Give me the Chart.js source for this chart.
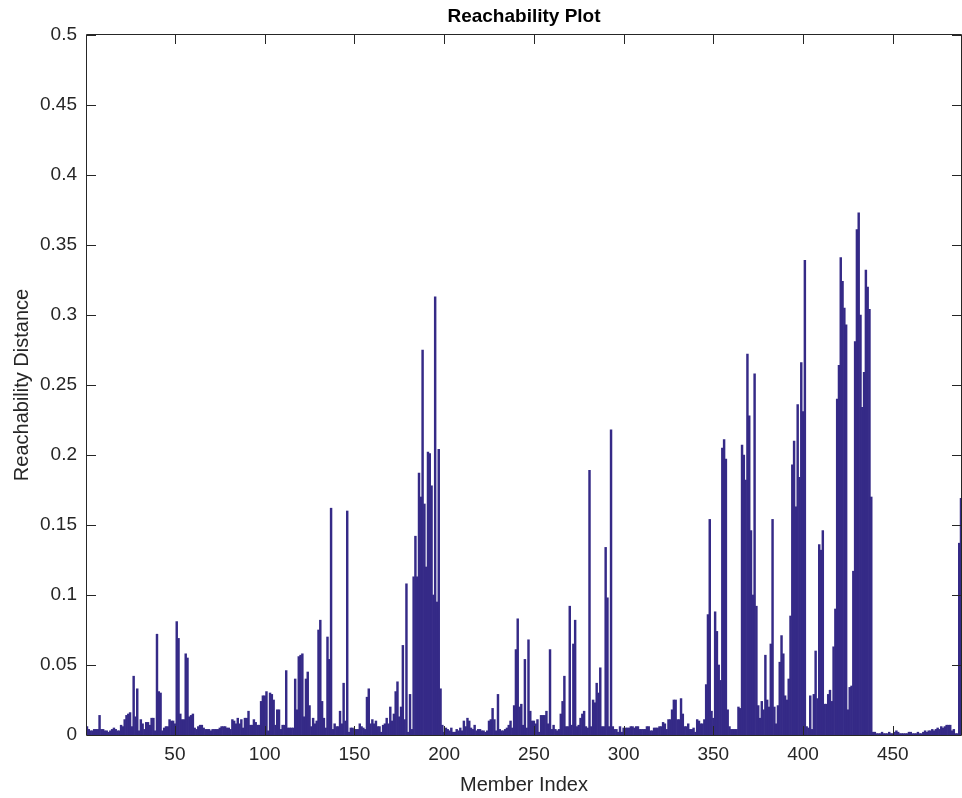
<!DOCTYPE html>
<html>
<head>
<meta charset="utf-8">
<title>Reachability Plot</title>
<script src="https://cdn.jsdelivr.net/npm/chart.js@4.4.0/dist/chart.umd.min.js"></script>
<style>
html, body { margin: 0; padding: 0; background: #fff; }
#wrap { width: 962px; height: 798px; position: relative; }
</style>
</head>
<body>
<div id="wrap"><canvas id="chart"></canvas></div>
<script>
// reachability distance per member, ordered
var reach = [
    0.006, 0.004, 0.003, 0.003, 0.004, 0.004, 0.004, 0.014, 0.004, 0.004,
    0.003, 0.003, 0.002, 0.003, 0.004, 0.005, 0.004, 0.003, 0.003, 0.007,
    0.006, 0.011, 0.014, 0.015, 0.016, 0.006, 0.042, 0.013, 0.033, 0.003,
    0.011, 0.008, 0.004, 0.009, 0.009, 0.007, 0.012, 0.012, 0.003, 0.072,
    0.031, 0.030, 0.003, 0.005, 0.006, 0.006, 0.011, 0.010, 0.010, 0.008,
    0.081, 0.069, 0.015, 0.011, 0.011, 0.058, 0.055, 0.013, 0.014, 0.015,
    0.005, 0.004, 0.006, 0.007, 0.007, 0.005, 0.004, 0.004, 0.004, 0.003,
    0.004, 0.004, 0.004, 0.004, 0.005, 0.006, 0.006, 0.006, 0.005, 0.005,
    0.004, 0.011, 0.010, 0.008, 0.012, 0.008, 0.011, 0.005, 0.012, 0.012,
    0.017, 0.007, 0.007, 0.011, 0.009, 0.007, 0.007, 0.024, 0.028, 0.028,
    0.031, 0.003, 0.030, 0.029, 0.025, 0.007, 0.018, 0.018, 0.004, 0.007,
    0.007, 0.046, 0.005, 0.005, 0.005, 0.005, 0.040, 0.018, 0.056, 0.057,
    0.058, 0.013, 0.040, 0.045, 0.021, 0.006, 0.012, 0.008, 0.010, 0.075,
    0.082, 0.024, 0.012, 0.005, 0.070, 0.054, 0.162, 0.004, 0.008, 0.006,
    0.006, 0.017, 0.008, 0.037, 0.010, 0.160, 0.002, 0.005, 0.005, 0.004,
    0.004, 0.004, 0.008, 0.006, 0.005, 0.004, 0.027, 0.033, 0.008, 0.011,
    0.008, 0.010, 0.006, 0.006, 0.002, 0.007, 0.008, 0.012, 0.008, 0.020,
    0.010, 0.015, 0.031, 0.038, 0.013, 0.020, 0.064, 0.011, 0.108, 0.002,
    0.029, 0.004, 0.113, 0.142, 0.113, 0.187, 0.170, 0.275, 0.165, 0.120,
    0.202, 0.201, 0.178, 0.100, 0.313, 0.095, 0.204, 0.033, 0.007, 0.002,
    0.005, 0.004, 0.003, 0.005, 0.002, 0.002, 0.004, 0.003, 0.005, 0.003,
    0.010, 0.006, 0.012, 0.010, 0.005, 0.004, 0.007, 0.003, 0.004, 0.004,
    0.003, 0.003, 0.002, 0.003, 0.010, 0.011, 0.019, 0.011, 0.003, 0.029,
    0.004, 0.003, 0.003, 0.004, 0.005, 0.007, 0.010, 0.005, 0.021, 0.061,
    0.083, 0.020, 0.022, 0.007, 0.054, 0.005, 0.068, 0.017, 0.010, 0.010,
    0.008, 0.011, 0.002, 0.014, 0.014, 0.014, 0.017, 0.008, 0.061, 0.004,
    0.007, 0.004, 0.003, 0.004, 0.015, 0.024, 0.042, 0.006, 0.006, 0.092,
    0.007, 0.065, 0.082, 0.006, 0.007, 0.012, 0.015, 0.017, 0.006, 0.005,
    0.189, 0.006, 0.025, 0.023, 0.037, 0.030, 0.048, 0.006, 0.006, 0.134,
    0.098, 0.006, 0.218, 0.006, 0.004, 0.004, 0.002, 0.006, 0.002, 0.005,
    0.005, 0.005, 0.005, 0.006, 0.006, 0.005, 0.006, 0.006, 0.004, 0.004,
    0.004, 0.004, 0.006, 0.006, 0.003, 0.003, 0.005, 0.005, 0.005, 0.006,
    0.006, 0.009, 0.008, 0.004, 0.011, 0.011, 0.018, 0.025, 0.025, 0.011,
    0.011, 0.026, 0.015, 0.006, 0.006, 0.008, 0.004, 0.004, 0.005, 0.002,
    0.011, 0.010, 0.008, 0.008, 0.011, 0.036, 0.086, 0.154, 0.017, 0.012,
    0.088, 0.074, 0.050, 0.039, 0.205, 0.211, 0.197, 0.018, 0.006, 0.004,
    0.004, 0.004, 0.004, 0.020, 0.019, 0.207, 0.200, 0.182, 0.272, 0.228,
    0.146, 0.100, 0.258, 0.092, 0.021, 0.012, 0.024, 0.018, 0.057, 0.025,
    0.020, 0.065, 0.154, 0.020, 0.008, 0.021, 0.052, 0.071, 0.058, 0.028,
    0.025, 0.040, 0.085, 0.193, 0.210, 0.163, 0.236, 0.184, 0.266, 0.231,
    0.339, 0.006, 0.005, 0.028, 0.004, 0.029, 0.060, 0.026, 0.136, 0.132,
    0.146, 0.022, 0.022, 0.029, 0.032, 0.024, 0.063, 0.090, 0.240, 0.264,
    0.341, 0.324, 0.305, 0.293, 0.018, 0.034, 0.035, 0.117, 0.281, 0.361,
    0.373, 0.300, 0.234, 0.259, 0.332, 0.320, 0.304, 0.170, 0.002, 0.002,
    0.001, 0.001, 0.001, 0.002, 0.001, 0.001, 0.001, 0.002, 0.001, 0.001,
    0.002, 0.003, 0.002, 0.001, 0.001, 0.001, 0.001, 0.001, 0.002, 0.002,
    0.001, 0.001, 0.001, 0.002, 0.001, 0.001, 0.002, 0.003, 0.002, 0.003,
    0.003, 0.004, 0.003, 0.004, 0.005, 0.004, 0.006, 0.005, 0.006, 0.007,
    0.007, 0.007, 0.003, 0.004, 0.001, 0.001, 0.137, 0.169
];
// member index 1..N
var memberIndex = reach.map(function (v, k) { return k + 1; });
var xTicks = [50, 100, 150, 200, 250, 300, 350, 400, 450];
var yTicks = [0, 0.05, 0.1, 0.15, 0.2, 0.25, 0.3, 0.35, 0.4, 0.45, 0.5];

var chartTitle = 'Reachability Plot';
var xTitle = 'Member Index';
var yTitle = 'Reachability Distance';

var barColor = '#352a87';
var axisColor = '#262626';
var fontFamily = '"Liberation Sans", Arial, Helvetica, sans-serif';

// matlab style box with inward tick marks + title centred on the axes
var boxPlugin = {
    id: 'boxPlugin',
    afterDraw: function (chart) {
        var ctx = chart.ctx;
        var a = chart.chartArea;
        var xs = chart.scales.x;
        var ys = chart.scales.y;
        var len = 9;
        ctx.save();
        ctx.strokeStyle = axisColor;
        ctx.lineWidth = 1;
        ctx.beginPath();
        ctx.rect(a.left - 0.5, a.top - 0.5, a.right - a.left + 1, a.bottom - a.top + 1);
        xTicks.forEach(function (t) {
            var px = Math.round(xs.getPixelForValue(t)) + 0.5;
            ctx.moveTo(px, a.bottom);
            ctx.lineTo(px, a.bottom - len);
            ctx.moveTo(px, a.top);
            ctx.lineTo(px, a.top + len);
        });
        yTicks.forEach(function (t) {
            var py = Math.round(ys.getPixelForValue(t)) + 0.5;
            ctx.moveTo(a.left, py);
            ctx.lineTo(a.left + len, py);
            ctx.moveTo(a.right, py);
            ctx.lineTo(a.right - len, py);
        });
        ctx.stroke();

        ctx.fillStyle = '#000';
        ctx.font = 'bold 19px ' + fontFamily;
        ctx.textAlign = 'center';
        ctx.textBaseline = 'middle';
        ctx.fillText(chartTitle, (a.left + a.right) / 2, 17);
        ctx.restore();
    }
};

var config = {
    type: 'bar',
    data: {
        datasets: [{
            label: 'Reachability',
            data: memberIndex.map(function (m, k) { return { x: m, y: reach[k] }; }),
            backgroundColor: barColor,
            borderWidth: 0,
            barPercentage: 1.0,
            categoryPercentage: 1.0
        }]
    },
    options: {
        responsive: true,
        maintainAspectRatio: false,
        animation: false,
        layout: { padding: { top: 35, right: 1, left: 0, bottom: 0 } },
        plugins: {
            legend: { display: false },
            tooltip: { enabled: false },
            title: { display: false }
        },
        scales: {
            x: {
                type: 'linear',
                min: 1,
                max: reach.length,
                offset: false,
                grid: { display: false, drawTicks: false },
                border: { display: false },
                afterBuildTicks: function (scale) {
                    scale.ticks = xTicks.map(function (v) { return { value: v }; });
                },
                afterFit: function (scale) { scale.height = 63; },
                ticks: {
                    color: axisColor,
                    padding: 8,
                    maxRotation: 0,
                    autoSkip: false,
                    font: { family: fontFamily, size: 19 }
                },
                title: {
                    display: true,
                    text: xTitle,
                    color: axisColor,
                    padding: { top: 0, bottom: 1 },
                    font: { family: fontFamily, size: 20 }
                }
            },
            y: {
                min: 0,
                max: 0.5,
                grid: { display: false, drawTicks: false },
                border: { display: false },
                afterBuildTicks: function (scale) {
                    scale.ticks = yTicks.map(function (v) { return { value: v }; });
                },
                afterFit: function (scale) { scale.width = 87; },
                ticks: {
                    color: axisColor,
                    padding: 10,
                    autoSkip: false,
                    font: { family: fontFamily, size: 19 },
                    callback: function (v) { return String(Number(v.toFixed(2))); }
                },
                title: {
                    display: true,
                    text: yTitle,
                    color: axisColor,
                    padding: { top: 10, bottom: 0 },
                    font: { family: fontFamily, size: 20 }
                }
            }
        }
    },
    plugins: [boxPlugin]
};

var ctx = document.getElementById('chart').getContext('2d');
window.myBar = new Chart(ctx, config);
</script>
</body>
</html>
